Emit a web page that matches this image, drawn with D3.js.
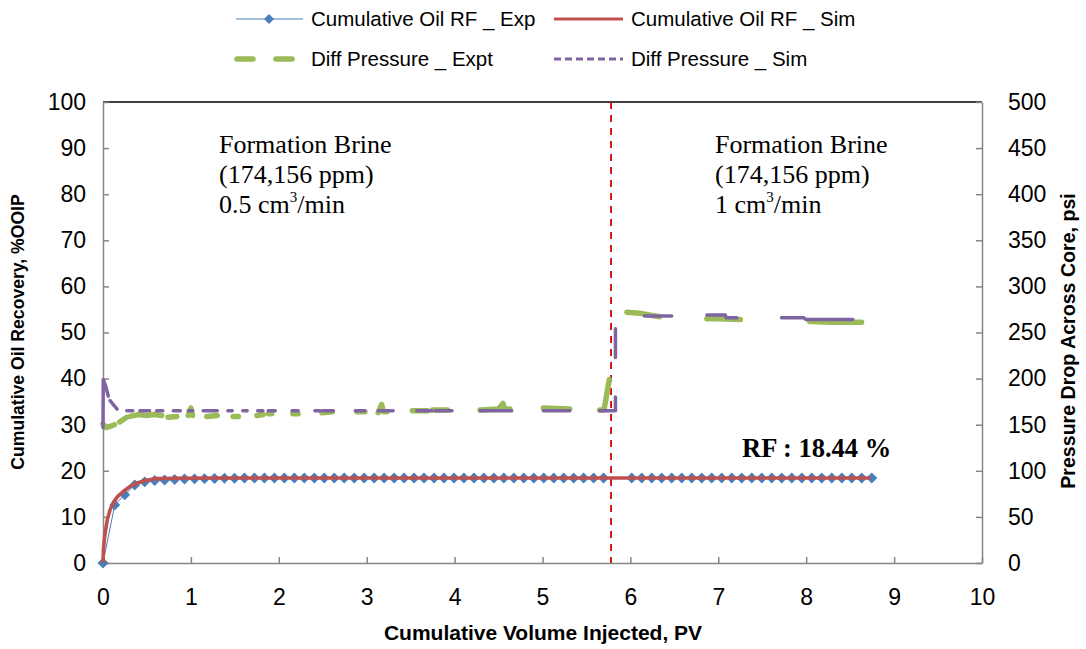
<!DOCTYPE html>
<html><head><meta charset="utf-8">
<script src="https://cdn.jsdelivr.net/npm/d3@7"></script>
<style>body{margin:0;background:#fff}svg{display:block}</style>
</head><body><svg id="c" width="1086" height="649"></svg>
<script>
// ---- data ----
const xTicks = [0,1,2,3,4,5,6,7,8,9,10];
const yLeftTicks = [0,10,20,30,40,50,60,70,80,90,100];
const yRightTicks = [0,50,100,150,200,250,300,350,400,450,500];

const rfExpX = [0,0.134,0.247,0.361,0.474,0.588,0.701,0.815,0.928,1.042,1.155,1.269,1.382,1.496,1.609,1.723,1.836,1.950,2.063,2.177,2.290,2.404,2.517,2.631,2.744,2.858,2.971,3.085,3.198,3.312,3.425,3.539,3.652,3.766,3.879,3.993,4.106,4.220,4.333,4.447,4.560,4.674,4.787,4.901,5.014,5.128,5.241,5.355,5.468,5.582,5.695,
  6.015,6.129,6.243,6.356,6.470,6.584,6.698,6.812,6.925,7.039,7.153,7.267,7.381,7.494,7.608,7.722,7.836,7.950,8.063,8.177,8.291,8.405,8.519,8.632,8.746];
const rfExpY = [0,12.6,14.8,16.9,17.6,17.9,18.0,18.1,18.2,18.25,18.3,18.35,18.4,18.4,18.42,18.44,18.44,18.44,18.44,18.44,18.44,18.44,18.44,18.44,18.44,18.44,18.44,18.44,18.44,18.44,18.44,18.44,18.44,18.44,18.44,18.44,18.44,18.44,18.44,18.44,18.44,18.44,18.44,18.44,18.44,18.44,18.44,18.44,18.44,18.44,18.44,
  18.44,18.44,18.44,18.44,18.44,18.44,18.44,18.44,18.44,18.44,18.44,18.44,18.44,18.44,18.44,18.44,18.44,18.44,18.44,18.44,18.44,18.44,18.44,18.44,18.44];

const rfSimX = [0,0.005,0.02,0.05,0.08,0.12,0.17,0.23,0.30,0.38,0.48,0.60,0.80,1.20,8.73];
const rfSimY = [0,3,6,9.5,11.5,13.2,14.5,15.5,16.5,17.3,17.9,18.3,18.4,18.44,18.44];

// pressure series (psi); null marks a break in the plotted line
const dpExp = [[0,151],[0.03,147],[0.08,148],[0.13,150],null,
  [0.19,153],[0.27,158],null,
  [0.31,159],[0.40,161],[0.50,160],[0.58,161],[0.67,160],null,
  [0.74,158],[0.84,159],null,
  [0.97,160],[1.00,168],[1.02,160],null,
  [1.18,159],[1.30,160],null,
  [1.48,159],[1.54,159],null,
  [1.75,160],[1.82,161],null,
  [1.88,162],[1.92,162],null,
  [2.16,162],[2.22,162],null,
  [2.49,163],[2.61,164],null,
  [2.89,164],[2.98,164],null,
  [3.13,163],[3.17,172],[3.19,164],[3.23,164],null,
  [3.52,165],[3.69,165],null,
  [3.75,166],[3.92,166],null,
  [4.29,166],[4.50,167],[4.55,173],[4.57,167],[4.63,167],null,
  [5.01,168],[5.31,167],null,
  [5.65,166],[5.70,166],[5.76,199],null,
  [5.96,272],[6.10,271],[6.33,267],null,
  [6.87,265],[7.00,265],[7.25,264],null,
  [8.04,262],[8.30,261],[8.63,261]];

const dpSim = [[0,147],[0.003,199],[0.03,192],[0.06,181],null,
  [0.08,176],[0.16,167],null,
  [0.27,165],[0.34,165],null,
  [0.42,165],[0.53,165],null,
  [0.61,165],[0.68,165],null,
  [0.80,165],[0.88,165],null,
  [0.97,165],[1.02,165],null,
  [1.14,165],[1.30,165],null,
  [1.42,165],[1.47,165],null,
  [1.59,165],[1.64,165],null,
  [1.76,165],[1.82,165],null,
  [1.88,165],[1.96,165],null,
  [2.15,165],[2.22,165],null,
  [2.41,165],[2.47,165],null,
  [2.50,165],[2.62,165],null,
  [2.87,165],[2.98,165],null,
  [3.13,165],[3.30,165],null,
  [3.57,165],[3.74,165],null,
  [3.78,165],[3.97,165],null,
  [4.29,165],[4.65,165],null,
  [5.01,165],[5.31,165],null,
  [5.65,165],[5.83,165],[5.83,180],null,
  [5.83,223],[5.83,254],null,
  [6.16,268],[6.47,268],null,
  [6.87,269],[7.08,269],[7.09,266],[7.21,266],null,
  [7.72,266],[7.97,266],[8.00,264],[8.53,264]];

const switchPV = 5.78;
const legendLabels = ["Cumulative Oil RF _ Exp","Cumulative Oil RF _ Sim","Diff Pressure _ Expt","Diff Pressure _ Sim"];

// ---- drawing ----
const svg = d3.select("#c");
const L = 103, R = 982, T = 102, B = 563;
const x = d3.scaleLinear().domain([0,10]).range([L,R]);
const yL = d3.scaleLinear().domain([0,100]).range([B,T]);
const yR = d3.scaleLinear().domain([0,500]).range([B,T]);
const AX = "#868686";
const cBlue="#4a7ebb", cRed="#c0504d", cGreen="#9bbb59", cPurple="#8064a2";
const font = "Liberation Sans, Arial, sans-serif";

// top border
svg.append("line").attr("x1",L).attr("x2",R).attr("y1",T).attr("y2",T).attr("stroke","#000").attr("stroke-width",1.3);

function styleAxis(g){
  g.select(".domain").attr("stroke",AX).attr("stroke-width",1.5);
  g.selectAll(".tick line").attr("stroke",AX).attr("stroke-width",1.5);
  g.selectAll(".tick text").attr("fill","#000").style("font-family",font).style("font-size","23px");
}
svg.append("g").attr("transform",`translate(0,${B})`)
  .call(d3.axisBottom(x).tickValues(xTicks).tickSize(-6).tickPadding(26).tickSizeOuter(0))
  .call(styleAxis);
svg.append("g").attr("transform",`translate(${L},0)`)
  .call(d3.axisLeft(yL).tickValues(yLeftTicks).tickSize(-6).tickPadding(17).tickSizeOuter(0))
  .call(styleAxis);
svg.append("g").attr("transform",`translate(${R},0)`)
  .call(d3.axisRight(yR).tickValues(yRightTicks).tickSize(-6).tickPadding(26).tickSizeOuter(0))
  .call(styleAxis);

// axis titles
svg.append("text").attr("x",543).attr("y",640).attr("text-anchor","middle")
  .style("font-family",font).style("font-weight","bold").style("font-size","21px")
  .text("Cumulative Volume Injected, PV");
svg.append("text").attr("transform",`translate(24,332) rotate(-90)`).attr("text-anchor","middle")
  .style("font-family",font).style("font-weight","bold").style("font-size","17.6px")
  .text("Cumulative Oil Recovery, %OOIP");
svg.append("text").attr("transform",`translate(1075,341) rotate(-90)`).attr("text-anchor","middle")
  .style("font-family",font).style("font-weight","bold").style("font-size","19.6px")
  .text("Pressure Drop Across Core, psi");

// vertical switch line
svg.append("line").attr("x1",x(switchPV)).attr("x2",x(switchPV)).attr("y1",T).attr("y2",B)
  .attr("stroke","#d40000").attr("stroke-width",1.8).attr("stroke-dasharray","7,6");

// pressure lines
const lineP = d3.line().defined(d=>d!==null).x(d=>x(d[0])).y(d=>yR(d[1]));
svg.append("path").attr("d",lineP(dpExp)).attr("fill","none").attr("stroke",cGreen)
  .attr("stroke-width",5.5).attr("stroke-linecap","round").attr("stroke-linejoin","round");
svg.append("path").attr("d",lineP(dpSim)).attr("fill","none").attr("stroke",cPurple)
  .attr("stroke-width",3.5).attr("stroke-linecap","round").attr("stroke-linejoin","round");

// RF exp line + diamonds
const rfExp = rfExpX.map((v,i)=>[v,rfExpY[i]]);
const rfSim = rfSimX.map((v,i)=>[v,rfSimY[i]]);
const lineL = d3.line().x(d=>x(d[0])).y(d=>yL(d[1]));
svg.append("path").attr("d",lineL(rfExp)).attr("fill","none").attr("stroke",cBlue).attr("stroke-width",1);
const dia = d3.symbol().type(d3.symbolSquare).size(60);
svg.append("g").selectAll("path").data(rfExp).join("path")
  .attr("transform",d=>`translate(${x(d[0])},${yL(d[1])}) rotate(45)`).attr("d",dia).attr("fill",cBlue);
svg.append("path").attr("d",lineL(rfSim)).attr("fill","none").attr("stroke",cRed)
  .attr("stroke-width",3.6).attr("stroke-linejoin","round");

// annotations
const serif = "Liberation Serif, Times New Roman, serif";
function note(x0, lines){
  const t = svg.append("text").style("font-family",serif).style("font-size","26px").attr("fill","#000");
  t.append("tspan").attr("x",x0).attr("y",153).text(lines[0]);
  t.append("tspan").attr("x",x0).attr("y",183).text(lines[1]);
  t.append("tspan").attr("x",x0).attr("y",213).text(lines[2]);
  t.append("tspan").attr("dy",-11).style("font-size","15px").text("3");
  t.append("tspan").attr("dy",11).text("/min");
}
note(219, ["Formation Brine","(174,156 ppm)","0.5 cm"]);
note(715, ["Formation Brine","(174,156 ppm)","1 cm"]);
svg.append("text").attr("x",742).attr("y",457).style("font-family",serif).style("font-weight","bold")
  .style("font-size","26.5px").text("RF : 18.44 %");

// legend
const lg = svg.append("g").style("font-family",font).style("font-size","20.5px");
function legText(xx,yy,s){ lg.append("text").attr("x",xx).attr("y",yy+7).text(s); }
lg.append("line").attr("x1",236).attr("x2",303).attr("y1",19).attr("y2",19).attr("stroke",cBlue).attr("stroke-width",1.2);
lg.append("path").attr("transform","translate(269,19) rotate(45)").attr("d",d3.symbol().type(d3.symbolSquare).size(50)).attr("fill",cBlue);
legText(311,19,legendLabels[0]);
lg.append("line").attr("x1",554).attr("x2",623).attr("y1",19).attr("y2",19).attr("stroke",cRed).attr("stroke-width",3.2);
legText(631,19,legendLabels[1]);
lg.append("line").attr("x1",237).attr("x2",295).attr("y1",59).attr("y2",59).attr("stroke",cGreen).attr("stroke-width",5.5)
  .attr("stroke-linecap","round").attr("stroke-dasharray","16,23");
legText(311,59,legendLabels[2]);
lg.append("line").attr("x1",554).attr("x2",623).attr("y1",59).attr("y2",59).attr("stroke",cPurple).attr("stroke-width",3)
  .attr("stroke-dasharray","7,4");
legText(631,59,legendLabels[3]);
</script></body></html>
